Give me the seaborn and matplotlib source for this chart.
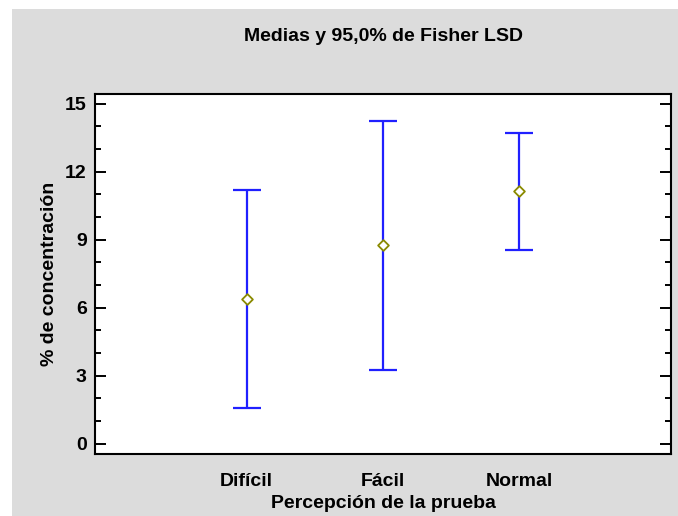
import matplotlib
matplotlib.use("Agg")
import matplotlib.pyplot as plt
from matplotlib.patches import Rectangle
from matplotlib.ticker import MultipleLocator
import pandas as pd
import seaborn as sns

# medias e intervalos LSD
grupos = ["Difícil", "Fácil", "Normal"]
medias = [6.4, 8.75, 11.13]
limite_inf = [1.6, 3.25, 8.56]
limite_sup = [11.2, 14.25, 13.7]

df = pd.DataFrame({"grupo": grupos, "media": medias,
                   "inf": limite_inf, "sup": limite_sup})

sns.set_theme(style="white")
plt.rcParams["font.family"] = ["Liberation Sans", "DejaVu Sans"]
plt.rcParams["font.weight"] = "bold"
plt.rcParams["text.color"] = "black"
plt.rcParams["axes.labelcolor"] = "black"
plt.rcParams["xtick.color"] = "black"
plt.rcParams["ytick.color"] = "black"

fs = 14

fig = plt.figure(figsize=(6.78, 5.16), dpi=100, facecolor="white")
# fondo gris
fig.patches.append(Rectangle((12 / 678, 0), 1 - 12 / 678, (516 - 9) / 516,
                             transform=fig.transFigure, facecolor="#dcdcdc",
                             edgecolor="none", zorder=-10))
ax = fig.add_axes([95 / 678, 62 / 516, 576 / 678, 360.5 / 516])
ax.set_facecolor("white")

yerr = [df["media"] - df["inf"], df["sup"] - df["media"]]
ax.errorbar(df["grupo"], df["media"], yerr=yerr, fmt="none", ecolor="#2020ff",
            elinewidth=1.6, capsize=10, capthick=1.6, zorder=2)
sns.scatterplot(data=df, x="grupo", y="media", marker="D", s=30,
                facecolor="white", edgecolor="#8a8a00", linewidth=1.3,
                zorder=3, ax=ax)

ax.set_xlim(-1.113, 3.113)
ax.set_ylim(-0.45, 15.45)
ax.yaxis.set_major_locator(MultipleLocator(3))
ax.yaxis.set_minor_locator(MultipleLocator(1))
ax.tick_params(axis="y", which="both", direction="in", left=True, right=True,
               labelsize=fs, pad=6)
ax.tick_params(axis="y", which="major", length=8, width=1.4)
ax.tick_params(axis="y", which="minor", length=4, width=1.4)
ax.tick_params(axis="x", bottom=False, labelsize=fs, pad=8)
for lab in ax.get_xticklabels() + ax.get_yticklabels():
    lab.set_fontweight("bold")

for s in ax.spines.values():
    s.set_color("black")
    s.set_linewidth(1.5)

ax.set_xlabel("Percepción de la prueba", fontsize=fs, fontweight="bold", labelpad=3)
ax.set_ylabel("% de concentración", fontsize=fs, fontweight="bold", labelpad=5)
ax.set_title("Medias y 95,0% de Fisher LSD", fontsize=fs, fontweight="bold", pad=38)

fig.savefig("out.png", dpi=100)
